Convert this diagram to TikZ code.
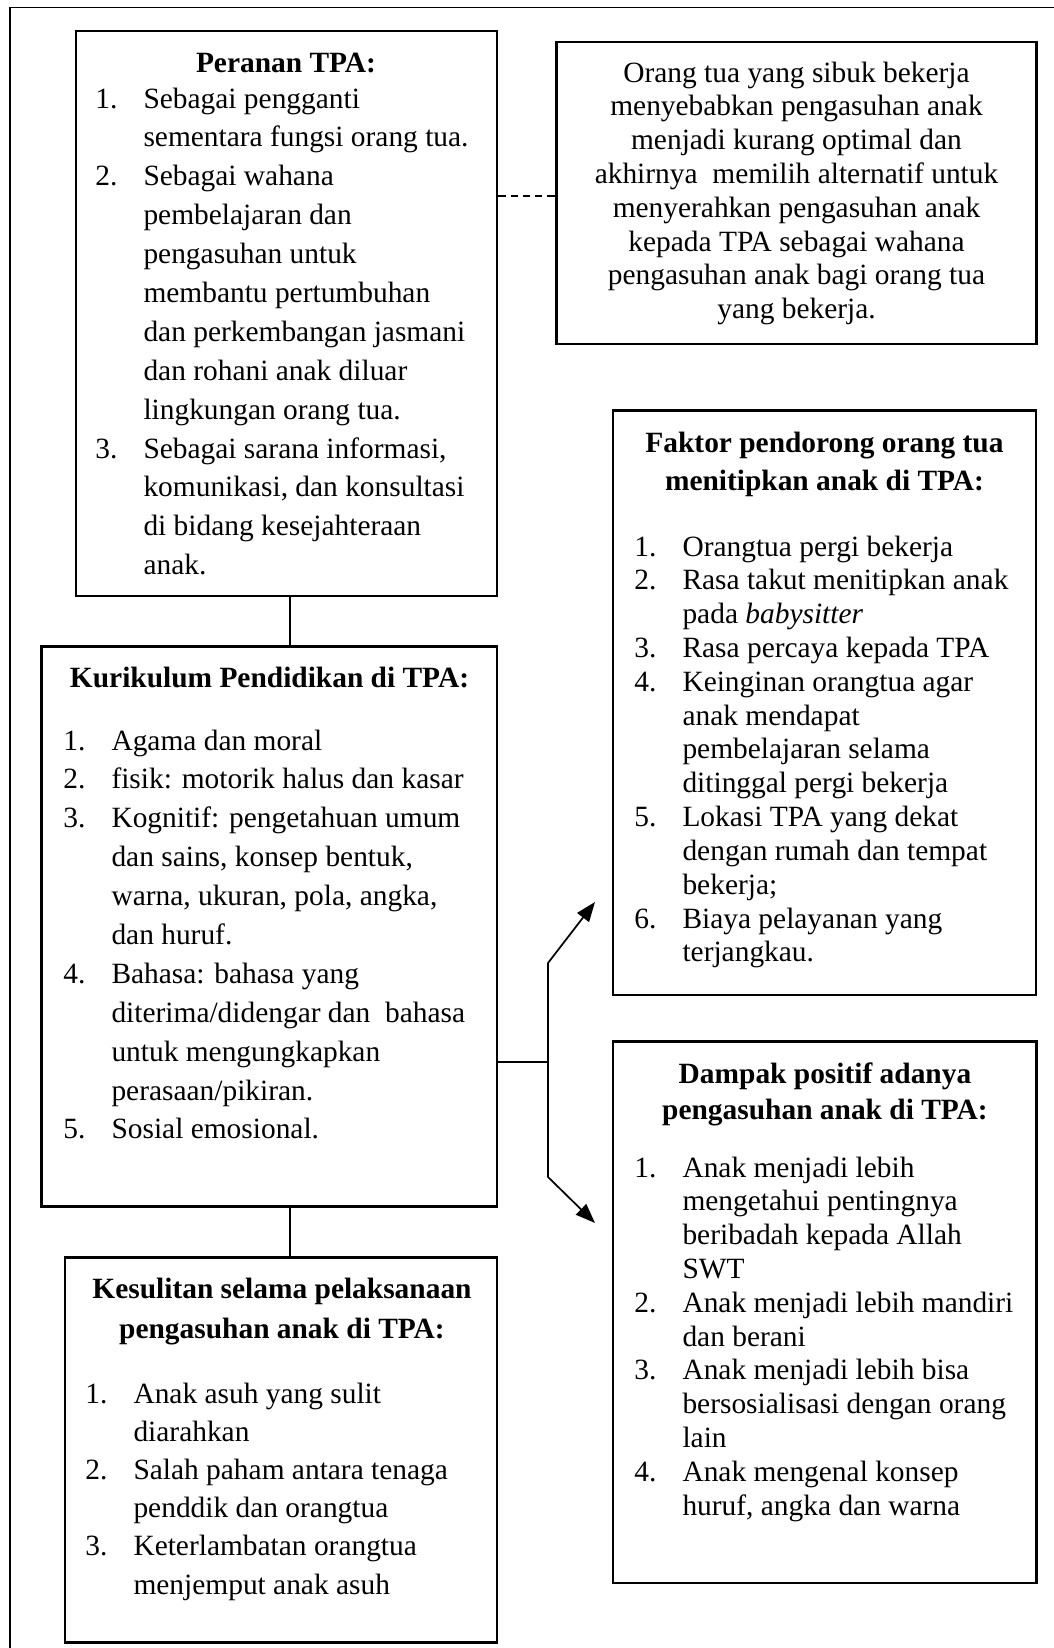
\documentclass[tikz,border=0pt]{standalone}
\usepackage{fontspec}
\setmainfont{Liberation Serif}
\usepackage{array}
\usetikzlibrary{fit,arrows.meta}

\tikzset{
  kotak/.style={draw, line width=1.1pt, inner sep=0pt},
  garis/.style={line width=0.7pt},
  teks/.style={inner sep=0pt, font=\fontsize{12}{13.8}\selectfont},
}

% judul tebal di tengah, isi daftar bernomor
\newcommand{\judul}[2]{{\renewcommand{\arraystretch}{#1}\bfseries\begin{tabular}[t]{@{}c@{}}#2\end{tabular}}}
\newcommand{\tengah}[2]{{\renewcommand{\arraystretch}{#1}\begin{tabular}[t]{@{}c@{}}#2\end{tabular}}}
\newcommand{\daftar}[2]{{\renewcommand{\arraystretch}{#1}\begin{tabular}[t]{@{}p{19.6pt}@{}l@{}}#2\end{tabular}}}

\begin{document}
\begin{tikzpicture}[x=0.408pt,y=0.408pt,yscale=-1,xscale=1]
\useasboundingbox (0,0) rectangle (1054,1648);
\clip (0,0) rectangle (1054,1648);

%Shape: Frame
\draw [garis] (10,1700) -- (10,7.5) -- (1100,7.5) ;

%Shape: Rectangle [Peranan TPA]
\node [kotak, fit={(76,31) (497,596)}] (peran) {};
%Shape: Rectangle [orang tua sibuk]
\node [kotak, fit={(556.5,42) (1036.5,344)}] (ortu) {};
%Shape: Rectangle [Faktor pendorong]
\node [kotak, fit={(613,410.5) (1036,995)}] (faktor) {};
%Shape: Rectangle [Kurikulum]
\node [kotak, fit={(41.7,646.7) (497,1206.7)}] (kurik) {};
%Shape: Rectangle [Dampak positif]
\node [kotak, fit={(613,1041.7) (1036.5,1583)}] (dampak) {};
%Shape: Rectangle [Kesulitan]
\node [kotak, fit={(65,1257.3) (497,1642.5)}] (kesul) {};

\coordinate (sumbu) at (290,0);
\coordinate (putus) at (0,196);
\coordinate (simpang) at (548,1062);
\coordinate (atas) at (548,963);
\coordinate (bawah) at (548,1177);
\coordinate (ujungA) at (595,902);
\coordinate (ujungB) at (595,1223);

%Straight Lines
\draw [garis, dash pattern=on 3pt off 2pt] (peran.east |- putus) -- (ortu.west |- putus) ;
\draw [garis] (peran.south -| sumbu) -- (kurik.north -| sumbu) ;
\draw [garis] (kurik.south -| sumbu) -- (kesul.north -| sumbu) ;
\draw [garis] (kurik.east |- simpang) -- (simpang) ;
\draw [garis, {Triangle[length=8pt,width=6pt]}-{Triangle[length=8pt,width=6pt]}] (ujungA) -- (atas) -- (bawah) -- (ujungB) ;

% Text Node
\draw (286,72) node [teks, anchor=base] (peranJudul) {\judul{1}{Peranan TPA:}};
% Text Node
\draw (95,108) node [teks, anchor=base west] (peranIsi) {\daftar{1.15}{
1. & Sebagai pengganti\\
   & sementara fungsi orang tua.\\
2. & Sebagai wahana\\
   & pembelajaran dan\\
   & pengasuhan untuk\\
   & membantu pertumbuhan\\
   & dan perkembangan jasmani\\
   & dan rohani anak diluar\\
   & lingkungan orang tua.\\
3. & Sebagai sarana informasi,\\
   & komunikasi, dan konsultasi\\
   & di bidang kesejahteraan\\
   & anak.}};

% Text Node
\draw (796.5,82) node [teks, anchor=base] (ortuIsi) {\tengah{1}{
Orang tua yang sibuk bekerja\\
menyebabkan pengasuhan anak\\
menjadi kurang optimal dan\\
akhirnya\ \ memilih alternatif untuk\\
menyerahkan pengasuhan anak\\
kepada TPA sebagai wahana\\
pengasuhan anak bagi orang tua\\
yang bekerja.}};

% Text Node
\draw (824.5,452) node [teks, anchor=base] (faktorJudul) {\judul{1.13}{
Faktor pendorong orang tua\\
menitipkan anak di TPA:}};
% Text Node
\draw (634,556) node [teks, anchor=base west] (faktorIsi) {\daftar{1}{
1. & Orangtua pergi bekerja\\
2. & Rasa takut menitipkan anak\\
   & pada \textit{babysitter}\\
3. & Rasa percaya kepada TPA\\
4. & Keinginan orangtua agar\\
   & anak mendapat\\
   & pembelajaran selama\\
   & ditinggal pergi bekerja\\
5. & Lokasi TPA yang dekat\\
   & dengan rumah dan tempat\\
   & bekerja;\\
6. & Biaya pelayanan yang\\
   & terjangkau.}};

% Text Node
\draw (269.5,687) node [teks, anchor=base] (kurikJudul) {\judul{1}{Kurikulum Pendidikan di TPA:}};
% Text Node
\draw (63,750) node [teks, anchor=base west] (kurikIsi) {\daftar{1.15}{
1. & Agama dan moral\\
2. & fisik: motorik halus dan kasar\\
3. & Kognitif: pengetahuan umum\\
   & dan sains, konsep bentuk,\\
   & warna, ukuran, pola, angka,\\
   & dan huruf.\\
4. & Bahasa: bahasa yang\\
   & diterima/didengar dan\ \ bahasa\\
   & untuk mengungkapkan\\
   & perasaan/pikiran.\\
5. & Sosial emosional.}};

% Text Node
\draw (825,1083) node [teks, anchor=base] (dampakJudul) {\judul{1.085}{
Dampak positif adanya\\
pengasuhan anak di TPA:}};
% Text Node
\draw (634,1177) node [teks, anchor=base west] (dampakIsi) {\daftar{1}{
1. & Anak menjadi lebih\\
   & mengetahui pentingnya\\
   & beribadah kepada Allah\\
   & SWT\\
2. & Anak menjadi lebih mandiri\\
   & dan berani\\
3. & Anak menjadi lebih bisa\\
   & bersosialisasi dengan orang\\
   & lain\\
4. & Anak mengenal konsep\\
   & huruf, angka dan warna}};

% Text Node
\draw (282,1298) node [teks, anchor=base] (kesulJudul) {\judul{1.2}{
Kesulitan selama pelaksanaan\\
pengasuhan anak di TPA:}};
% Text Node
\draw (85,1403) node [teks, anchor=base west] (kesulIsi) {\daftar{1.13}{
1. & Anak asuh yang sulit\\
   & diarahkan\\
2. & Salah paham antara tenaga\\
   & penddik dan orangtua\\
3. & Keterlambatan orangtua\\
   & menjemput anak asuh}};

\end{tikzpicture}
\end{document}
